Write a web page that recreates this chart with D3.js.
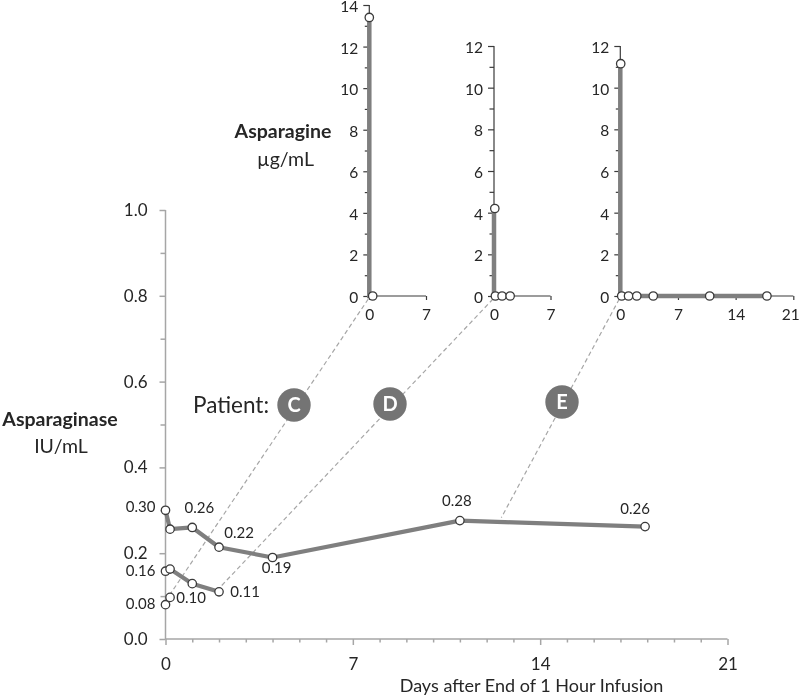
<!DOCTYPE html>
<html><head><meta charset="utf-8">
<script src="https://cdn.jsdelivr.net/npm/d3@7"></script>
<style>
html,body{margin:0;padding:0;background:#fff}
svg{display:block;filter:blur(0.35px)}
text{font-family:Lato,"Open Sans",sans-serif;fill:#262626}
</style></head><body>
<svg id="c" width="800" height="695"></svg>
<script>
const mainXTicks=[0,7,14,21];
const mainYTicks=[0,0.1,0.2,0.3,0.4,0.5,0.6,0.7,0.8,0.9,1.0];
const mainYLabelled=[0,0.2,0.4,0.6,0.8,1.0];
const days=[0,0.17,1,2,4,11,17.92];
const patientEConc=[0.30,0.256,0.26,0.214,0.19,0.276,0.262];
const patientDDays=[0,0.17,1,2];
const patientDConc=[0.158,0.163,0.129,0.11];
const patientCDays=[0,0.17];
const patientCConc=[0.08,0.097];
const labelsE=["0.30",null,"0.26","0.22","0.19","0.28","0.26"];
const labelsD=["0.16",null,null,"0.11"];
const labelsC=["0.08","0.10"];
const insetCDays=[0,0.42];
const insetCAsn=[13.4,0];
const insetDDays=[0.1,0.17,1,2];
const insetDAsn=[4.2,0,0,0];
const insetEDays=[0.05,0.17,1,2,4,10.85,17.8];
const insetEAsn=[11.15,0,0,0,0,0,0];
const patients=["C","D","E"];

const svg=d3.select("#c");
const G="#7f7f7f",AX="#a6a6a6",DK="#3a3a3a";
const x=d3.scaleLinear([0,21],[165.5,727.5]);
const y=d3.scaleLinear([0,1],[639,210]);

// main axes
const gy=svg.append("g").attr("transform",`translate(${x(0)},0)`)
  .call(d3.axisLeft(y).tickValues(mainYTicks).tickFormat(d=>mainYLabelled.includes(d)?d3.format(".1f")(d):"").tickSize(6).tickPadding(12));
const gx=svg.append("g").attr("transform",`translate(0,${y(0)})`)
  .call(d3.axisBottom(x).tickValues(d3.range(0,22)).tickFormat(d=>mainXTicks.includes(d)?d:"").tickSize(6).tickPadding(13));
[gx,gy].forEach(g=>{
  g.selectAll("path,line").attr("stroke",AX).attr("stroke-width",1.5);
  g.selectAll("text").attr("font-size",17).style("fill","#262626");
});
gy.select(".domain").attr("d",`M0,${y(1)}V${y(0)}`);
gx.select(".domain").attr("d",`M${x(0)},0H${x(21)}`);
gx.selectAll(".tick").filter(d=>!mainXTicks.includes(d)).select("line").attr("y2",3.5);
gy.selectAll(".tick").filter(d=>!mainYLabelled.includes(d)).select("line").attr("x2",-5);

// insets
const bottom=296;
const insets=[
 {name:"C",x0:369.3,x1:426,xMax:7,yTop:5,yMax:14,xt:[0,7],days:insetCDays,vals:insetCAsn,end:[0.02,0.09]},
 {name:"D",x0:494,x1:550.5,xMax:7,yTop:46,yMax:12,xt:[0,7],days:insetDDays,vals:insetDAsn,end:[2.03,0.12]},
 {name:"E",x0:620.3,x1:793.3,xMax:21,yTop:46,yMax:12,xt:[0,7,14,21],days:insetEDays,vals:insetEAsn,end:[12.55,0.283]}
];
insets.forEach(p=>{
  p.sx=d3.scaleLinear([0,p.xMax],[p.x0,p.x1]);
  p.sy=d3.scaleLinear([0,p.yMax],[bottom,p.yTop]);
  svg.append("line").attr("x1",p.sx(0)-1).attr("y1",bottom+3).attr("x2",x(p.end[0])).attr("y2",y(p.end[1]))
    .attr("stroke","#a6a6a6").attr("stroke-width",1.2).attr("stroke-dasharray","4.5 3");
});
insets.forEach(p=>{
  const ay=svg.append("g").attr("transform",`translate(${p.x0},0)`)
    .call(d3.axisLeft(p.sy).tickValues(d3.range(0,p.yMax+1)).tickFormat(d=>d%2===0?d:"").tickSize(6).tickPadding(5));
  const ax=svg.append("g").attr("transform",`translate(0,${bottom})`)
    .call(d3.axisBottom(p.sx).tickValues(p.xt).tickFormat(d=>d).tickSize(4).tickPadding(9));
  [ax,ay].forEach(g=>{
    g.selectAll("path,line").attr("stroke",DK).attr("stroke-width",1.2);
    g.selectAll("text").attr("font-size",15.5).style("fill","#262626");
  });
  ay.selectAll("text").attr("dy","0.42em");
  ay.selectAll(".tick").filter(d=>d%2!==0).select("line").attr("x2",-4.5);
  ax.selectAll(".tick").filter(d=>d===21).select("text").attr("dx",-3);
  ay.select(".domain").attr("d",`M0,${p.sy(p.yMax)}V${bottom}`);
  ax.select(".domain").attr("d",`M${p.x0},0H${p.x1}`);
  const pts=p.days.map((d,i)=>[p.sx(d),p.sy(p.vals[i])]);
  svg.append("path").attr("d",d3.line()([[p.sx(0),p.sy(p.vals[0])],[p.sx(0),p.sy(0)],...pts.slice(1)]))
    .attr("fill","none").attr("stroke",G).attr("stroke-width",4.5);
  svg.append("g").selectAll("circle").data(pts).join("circle")
    .attr("cx",d=>d[0]).attr("cy",d=>d[1]).attr("r",4.2)
    .attr("fill","#fff").attr("stroke",DK).attr("stroke-width",1.3);
});

// main series
function series(ds,vs,w){
  const pts=ds.map((d,i)=>[x(d),y(vs[i])]);
  svg.append("path").attr("d",d3.line()(pts)).attr("fill","none").attr("stroke",G).attr("stroke-width",w).attr("stroke-linejoin","round");
  return pts;
}
const allPts=[series(patientCDays,patientCConc,1.5),series(patientDDays,patientDConc,4.2),series(days,patientEConc,4.2)];
svg.append("g").selectAll("circle").data(allPts.flat()).join("circle")
  .attr("cx",d=>d[0]).attr("cy",d=>d[1]).attr("r",4.2)
  .attr("fill","#fff").attr("stroke",DK).attr("stroke-width",1.3);

// value labels
const lab=(t,lx,ly,a)=>svg.append("text").attr("x",lx).attr("y",ly).attr("text-anchor",a||"middle").attr("font-size",15).text(t);
const offs={E:[[-10,2,"end"],null,[7,-14],[20,-9],[4,16],[-3,-15],[-10,-13]],
            D:[[-10,5,"end"],null,null,[26,5]],
            C:[[-10,4,"end"],[21,6]]};
function labels(ds,vs,ls,o){ls.forEach((t,i)=>{if(t)lab(t,x(ds[i])+o[i][0],y(vs[i])+o[i][1],o[i][2]);});}
labels(days,patientEConc,labelsE,offs.E);
labels(patientDDays,patientDConc,labelsD,offs.D);
labels(patientCDays,patientCConc,labelsC,offs.C);

// titles
const tt=(t,tx,ty,s,w,a)=>svg.append("text").attr("x",tx).attr("y",ty).attr("font-size",s).attr("font-weight",w||400).attr("text-anchor",a||"middle").text(t);
tt("Asparaginase",60,426,19.5,700);
tt("IU/mL",61,453,19.5);
tt("Asparagine",283,138,19.5,700);
tt("µg/mL",285.5,166,19.5);
tt("Days after End of 1 Hour Infusion",531.5,692,18);
tt("Patient:",231,413,22.5);

// badges
const badgeX=[294,390,562],badgeY=[405,404,402];
patients.forEach((n,i)=>{
  svg.append("circle").attr("cx",badgeX[i]).attr("cy",badgeY[i]).attr("r",16.7).attr("fill","#747474");
  svg.append("text").attr("x",badgeX[i]).attr("y",badgeY[i]+7).attr("text-anchor","middle").attr("font-size",20).attr("font-weight",700).style("fill","#fff").text(n);
});
</script></body></html>
